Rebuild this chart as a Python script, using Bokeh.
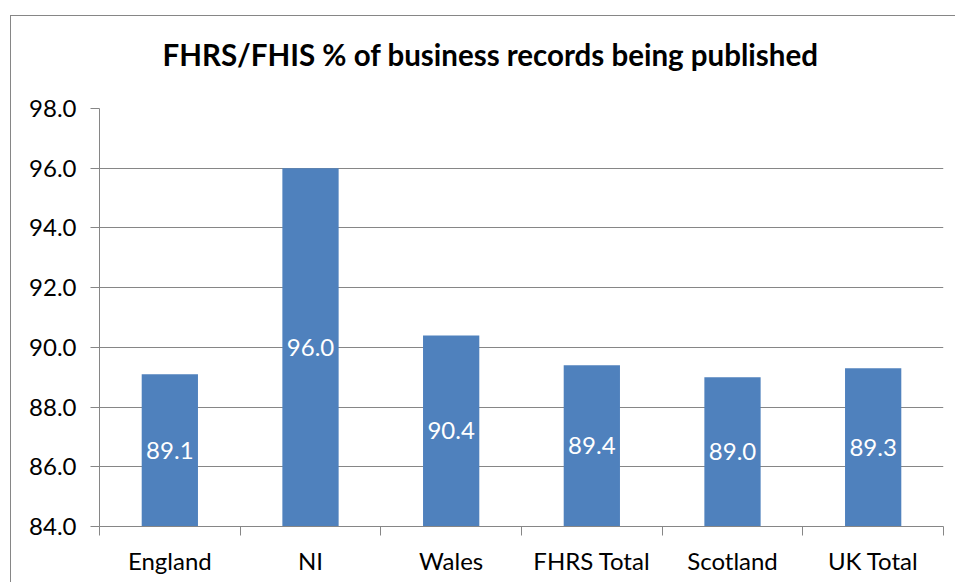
from bokeh.plotting import figure
from bokeh.models import ColumnDataSource, Range1d, FixedTicker, NumeralTickFormatter, Title
from bokeh.core.properties import value
from bokeh.embed import file_html
from bokeh.resources import INLINE

categories = ["England", "NI", "Wales", "FHRS Total", "Scotland", "UK Total"]
values = [89.1, 96.0, 90.4, 89.4, 89.0, 89.3]
value_labels = ["89.1", "96.0", "90.4", "89.4", "89.0", "89.3"]
y_ticks = [84, 86, 88, 90, 92, 94, 96, 98]
y_min, y_max = 84, 98
chart_title = "FHRS/FHIS % of business records being published"

positions = [i + 1 for i in range(len(categories))]
boundaries = [i + 0.5 for i in range(len(categories) + 1)]

source = ColumnDataSource(dict(
    x=positions,
    top=values,
    mid=[(y_min + v) / 2 for v in values],
    label=value_labels,
))

FONT = "Lato"
GREY = "#868686"

p = figure(
    width=945, height=567,
    x_range=Range1d(0.5, len(categories) + 0.5),
    y_range=Range1d(y_min, y_max),
    output_backend="svg", toolbar_location=None,
    min_border_left=88, min_border_right=13, min_border_top=92, min_border_bottom=57,
)
p.margin = (16, 0, 0, 11)
p.styles = {"box-shadow": "-1px -1px 0 0 #868686"}

p.vbar(x="x", top="top", bottom=y_min, width=0.4, source=source,
       fill_color="#4F81BD", line_color=None)
p.text(x="x", y="mid", text="label", source=source,
       text_color="white", text_font=value(FONT), text_font_size="24px",
       text_align="center", text_baseline="middle")

# main title (outer panel)
p.title.text = chart_title
p.title.text_font = FONT
p.title.text_font_size = "29.5px"
p.title.text_font_style = "bold"
p.title.align = "left"
p.title.text_color = "#000000"
p.title.standoff = 0
p.title.offset = 63

# spacer between the frame and the title (inner panel)
spacer = Title(text=" ", text_font_size="1px", standoff=34)
p.add_layout(spacer, "above")

p.outline_line_color = None
p.background_fill_color = "white"
p.border_fill_color = "white"

xa = p.xaxis[0]
xa.ticker = FixedTicker(ticks=positions, minor_ticks=boundaries)
xa.major_label_overrides = {pos: cat for pos, cat in zip(positions, categories)}
xa.major_tick_out = 0
xa.major_tick_in = 0
xa.minor_tick_out = 9
xa.minor_tick_in = 0
xa.minor_tick_line_color = GREY
xa.axis_line_color = GREY
xa.major_label_standoff = 10
xa.major_label_text_font = FONT
xa.major_label_text_font_size = "24px"
xa.major_label_text_color = "#000000"

ya = p.yaxis[0]
ya.ticker = FixedTicker(ticks=y_ticks)
ya.formatter = NumeralTickFormatter(format="0.0")
ya.major_tick_out = 9
ya.major_tick_in = 0
ya.minor_tick_out = 0
ya.minor_tick_in = 0
ya.major_tick_line_color = GREY
ya.axis_line_color = GREY
ya.major_label_standoff = 14
ya.major_label_text_font = FONT
ya.major_label_text_font_size = "24px"
ya.major_label_text_color = "#000000"

p.xgrid.visible = False
p.ygrid.grid_line_color = GREY
p.ygrid.ticker = FixedTicker(ticks=y_ticks)

open("out.html", "w").write(file_html(p, INLINE))
